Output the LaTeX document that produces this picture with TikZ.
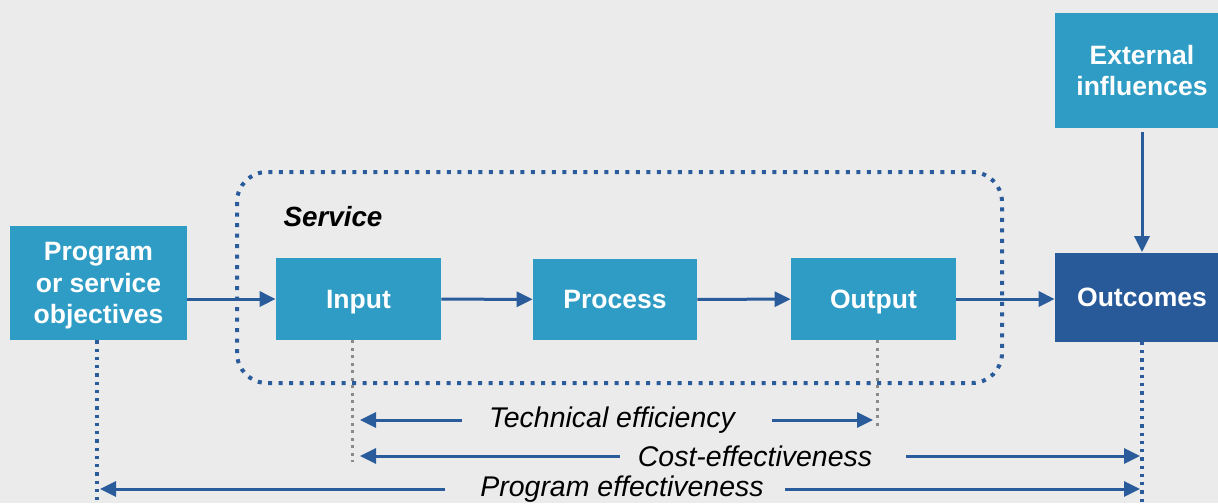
\documentclass[tikz,border=0pt]{standalone}
\usepackage{fontspec}
\setmainfont{Liberation Sans}
\usetikzlibrary{arrows.meta, positioning, calc}
\definecolor{bgGray}{HTML}{EBEBEB}
\definecolor{boxBlue}{HTML}{2E9CC4}
\definecolor{darkBlue}{HTML}{285A9A}
\definecolor{arrBlue}{HTML}{2A5C9C}
\definecolor{dotGray}{HTML}{8A8A8A}
\begin{document}
\begin{tikzpicture}[
  box/.style={fill=boxBlue, text=white, align=center, font=\bfseries\fontsize{15.1}{17.8}\selectfont, inner sep=0pt, text depth=0pt},
  flow/.style={-{Triangle[length=0.32cm, width=0.3cm]}, line width=0.06cm, arrBlue},
  lbl/.style={font=\itshape\fontsize{16.2}{18}\selectfont, inner sep=0pt},
  bluedots/.style={arrBlue, line width=0.065cm, dash pattern=on 0.065cm off 0.1cm},
  graydots/.style={dotGray, line width=0.06cm, dash pattern=on 0.06cm off 0.09cm}
]

% Background
\fill[bgGray] (0,0) rectangle (24.36,10.06);
\useasboundingbox (0,0) rectangle (24.36,10.06);

% Service frame
\draw[arrBlue, line width=0.08cm, dash pattern=on 0.08cm off 0.13cm, rounded corners=0.6cm] (4.74,2.40) rectangle (20.04,6.62);
\node[font=\bfseries\itshape\fontsize{15.8}{18}\selectfont, inner sep=0pt] (svc) at (6.66,5.72) {Service};

% Boxes (the right column runs past the page edge)
\node[box, minimum width=3.54cm, minimum height=2.28cm] (obj) at (1.97,4.40) {Program\\or service\\objectives};
\node[box, minimum width=3.30cm, minimum height=1.64cm] (inp) at (7.17,4.08) {Input};
\node[box, minimum width=3.28cm, minimum height=1.62cm] (proc) at (12.30,4.07) {Process};
\node[box, minimum width=3.30cm, minimum height=1.64cm] (outp) at (17.47,4.08) {Output};
\node[box, fill=darkBlue, minimum width=3.48cm, minimum height=1.78cm] (outc) at (22.84,4.12) {Outcomes};
\node[box, minimum width=3.48cm, minimum height=2.30cm] (ext) at (22.84,8.65) {External\\influences};

% Main flow
\draw[flow] (obj.east |- inp) -- (inp);
\draw[flow] (inp) -- (proc);
\draw[flow] (proc) -- (outp);
\draw[flow] (outp) -- (outp -| outc.west);
\draw[flow, shorten <=0.08cm] (ext) -- (outc);

% Dotted guides
\coordinate (gIn) at (7.04,0.82);
\coordinate (gOut) at (17.54,1.50);
\coordinate (bObj) at (1.94,0);
\coordinate (bOutc) at (22.84,0);
\draw[graydots] (inp.south -| gIn) -- (gIn);
\draw[graydots] (outp.south -| gOut) -- (gOut);
\draw[bluedots] (obj.south -| bObj) -- (bObj);
\draw[bluedots] (outc.south -| bOutc) -- (bOutc);

% Measures
\node[lbl] (tech) at (12.24,1.66) {Technical efficiency};
\node[lbl] (cost) at (15.10,0.94) {Cost-effectiveness};
\node[lbl] (prog) at (12.44,0.28) {Program effectiveness};

\coordinate (teL) at (7.20,1.66);   \coordinate (teA) at (9.24,1.66);
\coordinate (teB) at (15.44,1.66);  \coordinate (teR) at (17.46,1.66);
\coordinate (ceL) at (7.20,0.94);   \coordinate (ceA) at (12.40,0.94);
\coordinate (ceB) at (18.12,0.94);  \coordinate (ceR) at (22.80,0.94);
\coordinate (peL) at (2.00,0.28);   \coordinate (peA) at (8.90,0.28);
\coordinate (peB) at (15.70,0.28);  \coordinate (peR) at (22.80,0.28);

\draw[flow] (teA) -- (teL);
\draw[flow] (teB) -- (teR);
\draw[flow] (ceA) -- (ceL);
\draw[flow] (ceB) -- (ceR);
\draw[flow] (peA) -- (peL);
\draw[flow] (peB) -- (peR);

\end{tikzpicture}
\end{document}
